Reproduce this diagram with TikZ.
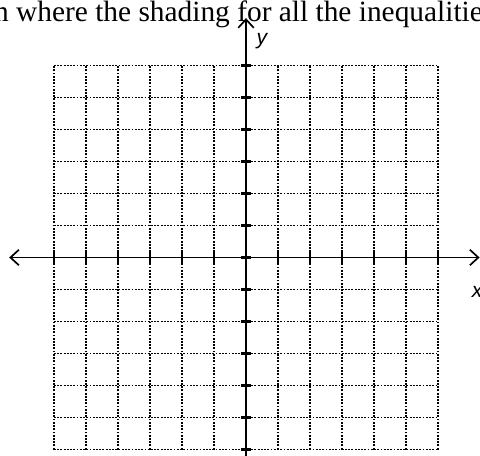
\documentclass[tikz,border=0pt]{standalone}
\usepackage{fontspec}
\setmainfont{Liberation Serif}
\setsansfont{Liberation Sans}
\usetikzlibrary{arrows.meta}
\tikzset{
  gridline/.style={densely dotted, line width=1.3pt},
  axisline/.style={line width=1.2pt, {Straight Barb[length=6pt,width=11pt]}-{Straight Barb[length=6pt,width=11pt]}},
  axistick/.style={line width=1.8pt}
}
\begin{document}
\begin{tikzpicture}[x=0.8cm,y=0.8cm]
    \useasboundingbox (-7.6875,-6.2031) rectangle (7.3125,8.0469);
    \clip (-7.6875,-6.2031) rectangle (7.3125,8.0469);
    \node[anchor=base west, inner sep=0pt, font=\fontsize{20.9}{25}\selectfont] (head) at (-7.88,7.36) {n where the shading for all the inequalitie};
    % grid
    \draw[gridline,step=1] (-6,-6) grid (6,6);
    % axes
    \coordinate (xl) at (-7.4,0);
    \coordinate (xr) at (7.3,0);
    \coordinate (yb) at (0,-6.7);
    \coordinate (yt) at (0,7.48);
    \draw[axisline] (xl) -- (xr);
    \draw[axisline] (yb) -- (yt);
    \foreach \i in {-6,...,6} {
        \draw[axistick] (\i,-0.16) -- (\i,0.16);
        \draw[axistick] (-0.16,\i) -- (0.16,\i);
    }
    \node[font=\sffamily\itshape\fontsize{15}{17}\selectfont] (ylab) at (0.5,6.75) {y};
    \node[font=\sffamily\itshape\fontsize{15}{17}\selectfont] (xlab) at (7.22,-1.08) {x};
\end{tikzpicture}
\end{document}
